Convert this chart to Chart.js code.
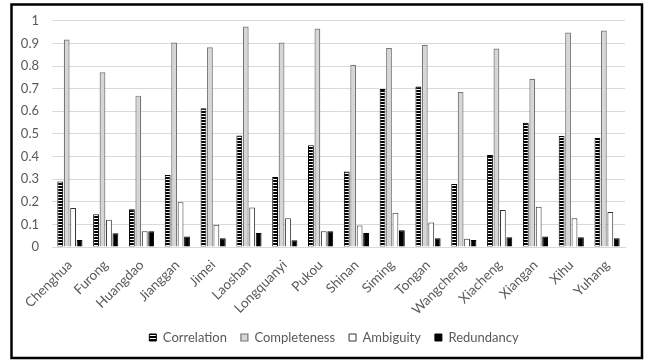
<!DOCTYPE html>
<html>
<head>
<meta charset="utf-8">
<script src="https://cdn.jsdelivr.net/npm/chart.js@4"></script>
<style>
html,body{margin:0;padding:0;background:#fff;}
#wrap{width:648px;height:363px;position:relative;}
</style>
</head>
<body>
<div id="wrap"><canvas id="c" width="648" height="363"></canvas></div>
<script>
const categories = ["Chenghua","Furong","Huangdao","Jianggan","Jimei","Laoshan","Longquanyi","Pukou","Shinan","Siming","Tongan","Wangcheng","Xiacheng","Xiangan","Xihu","Yuhang"];
const correlation  = [0.290,0.145,0.167,0.318,0.613,0.493,0.309,0.450,0.334,0.698,0.709,0.278,0.407,0.549,0.491,0.482];
const completeness = [0.917,0.772,0.669,0.904,0.883,0.975,0.904,0.966,0.806,0.880,0.894,0.685,0.877,0.744,0.948,0.957];
const ambiguity    = [0.172,0.120,0.070,0.198,0.098,0.175,0.127,0.070,0.095,0.151,0.108,0.036,0.164,0.178,0.127,0.155];
const redundancy   = [0.031,0.061,0.070,0.046,0.039,0.062,0.030,0.070,0.062,0.074,0.039,0.031,0.043,0.046,0.043,0.039];
const seriesNames = ["Correlation","Completeness","Ambiguity","Redundancy"];
const yTicks = [0,0.1,0.2,0.3,0.4,0.5,0.6,0.7,0.8,0.9,1];

function stripePattern(){
  const p = document.createElement('canvas');
  p.width = 4; p.height = 3;
  const g = p.getContext('2d');
  g.fillStyle = '#000'; g.fillRect(0,0,4,3);
  g.fillStyle = '#fff'; g.fillRect(0,2,4,1);
  return document.getElementById('c').getContext('2d').createPattern(p,'repeat');
}
const stripes = stripePattern();

const frame = {
  id:'frame',
  afterLayout(chart){
    if (chart.legend) { chart.legend.left += 16; chart.legend.right += 16; }
  },
  afterDraw(chart){
    const ctx = chart.ctx;
    ctx.save();
    ctx.strokeStyle = '#000';
    ctx.lineWidth = 2.5;
    ctx.strokeRect(11.5,4.5,630.5,353.5);
    ctx.restore();
  }
};

const fontFam = "Lato, 'Liberation Sans', sans-serif";
new Chart(document.getElementById('c'), {
  type:'bar',
  data:{
    labels: categories,
    datasets:[
      {label:seriesNames[0], data:correlation, backgroundColor:stripes, borderColor:'#000', borderWidth:1},
      {label:seriesNames[1], data:completeness, backgroundColor:'#d6d6d6', borderColor:'#777', borderWidth:1.2},
      {label:seriesNames[2], data:ambiguity, backgroundColor:'#ffffff', borderColor:'#333', borderWidth:1},
      {label:seriesNames[3], data:redundancy, backgroundColor:'#000', borderColor:'#000', borderWidth:1}
    ]
  },
  options:{
    responsive:false,
    animation:false,
    devicePixelRatio:1,
    layout:{padding:{left:11,right:23,top:15,bottom:9}},
    datasets:{bar:{categoryPercentage:0.72, barPercentage:0.9}},
    plugins:{
      legend:{
        position:'bottom',
        labels:{
          boxWidth:7, boxHeight:7, padding:14,
          color:'#595959',
          font:{family:fontFam, size:13}
        }
      },
      tooltip:{enabled:false}
    },
    scales:{
      x:{
        grid:{display:false},
        border:{display:true, color:'#d9d9d9'},
        ticks:{
          minRotation:45, maxRotation:45, autoSkip:false,
          color:'#595959', font:{family:fontFam, size:13.5}, padding:2
        },
        afterFit(s){ s.height = 70; }
      },
      y:{
        min:0, max:1,
        afterBuildTicks(s){ s.ticks = yTicks.map(v=>({value:v})); },
        grid:{color:'#d9d9d9', drawTicks:false},
        border:{display:false},
        ticks:{
          color:'#595959', font:{family:fontFam, size:13}, padding:13,
          callback:(v)=> String(Math.round(v*10)/10)
        },
        afterFit(s){ s.width = 41; }
      }
    }
  },
  plugins:[frame]
});
</script>
</body>
</html>
